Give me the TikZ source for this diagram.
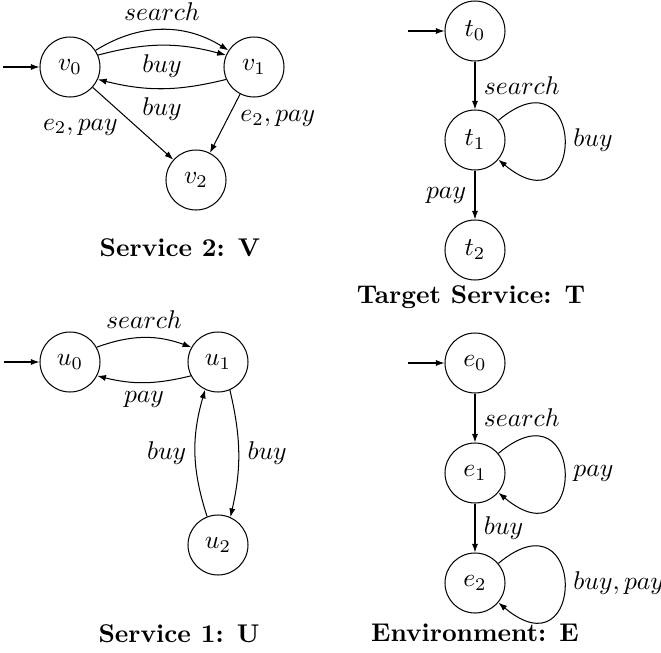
\documentclass[tikz,border=0pt]{standalone}
\usetikzlibrary{arrows.meta}
\begin{document}
\begin{tikzpicture}[x=0.39pt,y=0.39pt,
  state/.style={circle,draw,line width=0.4pt,minimum size=23.4pt,inner sep=0pt},
  trans/.style={-{Latex[length=3.4pt,width=2.4pt]},line width=0.4pt},
  caption/.style={font=\bfseries,inner sep=0pt},
  lbl/.style={inner sep=3.3pt}]
\useasboundingbox (0,0) rectangle (661,-653);

% ---------- Service 2: V ----------
\node[state] (v0) at (70,-67) {$v_0$};
\node[state] (v1) at (254,-67) {$v_1$};
\node[state] (v2) at (196,-180) {$v_2$};
\coordinate (vi) at (3,-67);
\draw[trans] (vi) -- (v0);
\draw[trans] (v0.33) to[bend left=32] node[lbl,above]{$search$} (v1.147);
\draw[trans] (v0.23) to[bend left=15] node[lbl,below]{$buy$} (v1.157);
\draw[trans] (v1.-156) to[bend left=14] node[lbl,below]{$buy$} (v0.-24);
\draw[trans] (v0) -- node[lbl,pos=0.55,anchor=east,xshift=-4pt]{$e_2, pay$} (v2);
\draw[trans] (v1) -- node[lbl,pos=0.42,anchor=west,xshift=1.6pt]{$e_2, pay$} (v2);
\node[caption] (capv) at (180,-248) {Service 2: V};

% ---------- Target Service: T ----------
\node[state] (t0) at (475,-31) {$t_0$};
\node[state] (t1) at (475,-140) {$t_1$};
\node[state] (t2) at (475,-250) {$t_2$};
\coordinate (ti) at (408,-31);
\draw[trans] (ti) -- (t0);
\draw[trans] (t0) -- node[lbl,right]{$search$} (t1);
\draw[trans] (t1) to[out=40,in=-40,distance=44.9pt] node[lbl,right]{$buy$} (t1);
\draw[trans] (t1) -- node[lbl,left]{$pay$} (t2);
\node[caption] (capt) at (471,-297) {Target Service: T};

% ---------- Service 1: U ----------
\node[state] (u0) at (70,-362) {$u_0$};
\node[state] (u1) at (218,-362) {$u_1$};
\node[state] (u2) at (218,-545) {$u_2$};
\coordinate (ui) at (4,-362);
\draw[trans] (ui) -- (u0);
\draw[trans] (u0.29) to[bend left=20] node[lbl,above]{$search$} (u1.151);
\draw[trans] (u1.-153) to[bend left=14] node[lbl,below]{$pay$} (u0.-27);
\draw[trans] (u2.111) to[bend left=17] node[lbl,left]{$buy$} (u1.-115);
\draw[trans] (u1.-67) to[bend left=13] node[lbl,right]{$buy$} (u2.66);
\node[caption] (capu) at (179,-634) {Service 1: U};

% ---------- Environment: E ----------
\node[state] (e0) at (475,-363) {$e_0$};
\node[state] (e1) at (475,-473) {$e_1$};
\node[state] (e2) at (475,-583) {$e_2$};
\coordinate (ei) at (408,-363);
\draw[trans] (ei) -- (e0);
\draw[trans] (e0) -- node[lbl,right]{$search$} (e1);
\draw[trans] (e1) to[out=40,in=-40,distance=44.9pt] node[lbl,right]{$pay$} (e1);
\draw[trans] (e1) -- node[lbl,right]{$buy$} (e2);
\draw[trans] (e2) to[out=40,in=-40,distance=44.9pt] node[lbl,right]{$buy, pay$} (e2);
\node[caption] (cape) at (475,-633) {Environment: E};
\end{tikzpicture}
\end{document}
